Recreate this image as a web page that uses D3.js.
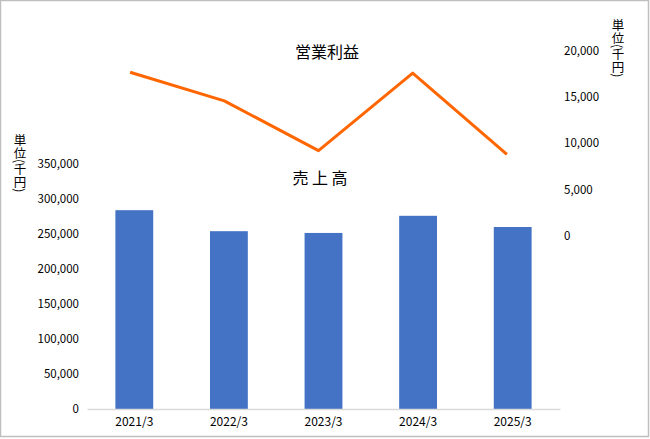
<!DOCTYPE html>
<html><head><meta charset="utf-8">
<script src="https://cdn.jsdelivr.net/npm/d3@7"></script>
<style>
html,body{margin:0;padding:0;background:#fff;}
text{font-family:"Noto Sans CJK JP","Noto Sans",sans-serif;fill:#000;}
</style></head>
<body><svg id="c" width="650" height="439"></svg>
<script>
const categories = ["2021/3","2022/3","2023/3","2024/3","2025/3"];
const sales = [284000, 254000, 251500, 276000, 260000];
const profit = [17700, 14600, 9200, 17600, 8800];
const salesTicks = [0,50000,100000,150000,200000,250000,300000,350000];
const profitTicks = [0,5000,10000,15000,20000];
const unitLabel = "単位(千円)";
const salesTitle = "売 上 高";
const profitTitle = "営業利益";

const svg = d3.select("#c");
svg.append("rect").attr("x",0.5).attr("y",0.5).attr("width",648).attr("height",436)
  .attr("fill","#fff").attr("stroke","#bfbfbf").attr("stroke-width",1.5);

const fmt = d3.format(",");
const x = d3.scaleBand().domain(categories).range([87,560]).paddingInner(0.6).paddingOuter(0.3);
const xLine = d3.scaleBand().domain(categories).range([83,554]);
const y = d3.scaleLinear().domain([0,350000]).range([409,164]);
const y2 = d3.scaleLinear().domain([0,20000]).range([235.5,51]);

// bars
svg.append("g").selectAll("rect").data(sales).join("rect")
  .attr("x",(d,i)=>x(categories[i])).attr("y",d=>y(d))
  .attr("width",x.bandwidth()).attr("height",d=>y(0)-y(d))
  .attr("fill","#4472c4");

// x axis
const gx = svg.append("g").attr("transform","translate(0,409)")
  .call(d3.axisBottom(x).tickSize(0).tickPadding(8));
gx.select(".domain").attr("stroke","#d9d9d9").attr("stroke-width",1.5);
gx.selectAll("text").attr("font-size",12).attr("fill","#000");

// left axis
const gy = svg.append("g").attr("transform","translate(79,0)")
  .call(d3.axisLeft(y).tickValues(salesTicks).tickFormat(fmt).tickSize(0).tickPadding(0));
gy.select(".domain").remove();
gy.selectAll("text").attr("font-size",11.5).attr("fill","#000");

// right axis
const gy2 = svg.append("g").attr("transform","translate(564,0)")
  .call(d3.axisRight(y2).tickValues(profitTicks).tickFormat(fmt).tickSize(0).tickPadding(0));
gy2.select(".domain").remove();
gy2.selectAll("text").attr("font-size",11.5).attr("fill","#000");

// line
const line = d3.line().x((d,i)=>xLine(categories[i])+xLine.bandwidth()/2).y(d=>y2(d));
svg.append("path").datum(profit).attr("d",line)
  .attr("fill","none").attr("stroke","#ff6600").attr("stroke-width",3).attr("stroke-linejoin","round");

// titles
svg.append("text").attr("x",327).attr("y",58).attr("text-anchor","middle").attr("font-size",16).text(profitTitle);
svg.append("text").attr("x",320).attr("y",184).attr("text-anchor","middle").attr("font-size",16).text(salesTitle);

// unit labels
svg.append("text").attr("x",20).attr("y",134).attr("font-size",12.5)
  .style("writing-mode","vertical-rl").text(unitLabel);
svg.append("text").attr("x",618).attr("y",19).attr("font-size",12.5)
  .style("writing-mode","vertical-rl").text(unitLabel);
</script></body></html>
